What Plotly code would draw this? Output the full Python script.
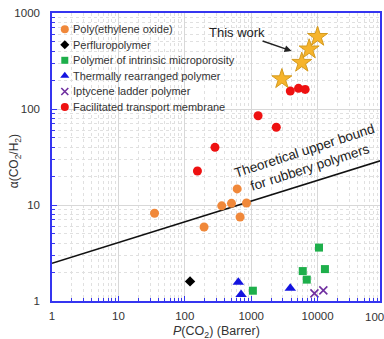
import plotly.graph_objects as go

# ---------------- data ----------------
peo_p = [35, 195, 360, 505, 850, 615, 680]
peo_a = [8.2, 5.9, 9.8, 10.4, 10.5, 14.7, 7.5]

pfp_p = [120]
pfp_a = [1.6]

pim_p = [1060, 5980, 6870, 10500, 12900]
pim_a = [1.28, 2.05, 1.67, 3.6, 2.15]

tr_p = [640, 705, 3880]
tr_a = [1.57, 1.17, 1.36]

ipt_p = [8960, 12200]
ipt_a = [1.2, 1.29]

ftm_p = [155, 285, 1270, 2390, 3880, 5160, 6500]
ftm_a = [22.6, 39.9, 85, 64.5, 154, 164, 160]

tw_p = [2900, 5780, 7460, 10000]
tw_a = [205, 304, 419, 566]

bound_p = [1, 100000]
bound_a = [2.47, 29.7]

series_names = ["Poly(ethylene oxide)", "Perfluropolymer",
                "Polymer of intrinsic microporosity", "Thermally rearranged polymer",
                "Iptycene ladder polymer", "Facilitated transport membrane"]

x_tickvals = [1, 10, 100, 1000, 10000, 100000]
x_ticktext = ["1", "10", "100", "1000", "10000", "100000"]
y_tickvals = [1, 10, 100, 1000]
y_ticktext = ["1", "10", "100", "1000"]

# minor ticks at 2..9 of each decade (axis styling)
x_minor = [m * 10 ** d for d in range(5) for m in range(2, 10)]
y_minor = [m * 10 ** d for d in range(3) for m in range(2, 10)]

# ---------------- styles ----------------
AX = "#3535f0"
TXT = "#333333"
FONT = "Liberation Sans, Arial, sans-serif"

styles = [
    dict(symbol="circle", size=9, color="#F0883A", line=dict(width=0)),
    dict(symbol="diamond", size=8, color="#000000", line=dict(width=0)),
    dict(symbol="square", size=8, color="#1EAF4B", line=dict(width=0)),
    dict(symbol="triangle-up", size=10, color="#1414E0", line=dict(width=0)),
    dict(symbol="x-thin", size=8, color="#7030A0", line=dict(width=1.6, color="#7030A0")),
    dict(symbol="circle", size=9, color="#EE1111", line=dict(width=0)),
]
series_xy = [(peo_p, peo_a), (pfp_p, pfp_a), (pim_p, pim_a),
             (tr_p, tr_a), (ipt_p, ipt_a), (ftm_p, ftm_a)]

fig = go.Figure()

# upper bound line
fig.add_trace(go.Scatter(x=bound_p, y=bound_a, mode="lines",
                         line=dict(color="#111111", width=1.6),
                         showlegend=False, hoverinfo="skip"))

for name, (px_, py_), st in zip(series_names, series_xy, styles):
    fig.add_trace(go.Scatter(x=px_, y=py_, mode="markers", name=name,
                             marker=st, showlegend=False))

fig.add_trace(go.Scatter(x=tw_p, y=tw_a, mode="markers", name="This work",
                         marker=dict(symbol="star", size=15, color="#F6B42C",
                                     line=dict(width=1, color="#D49A1E")),
                         showlegend=False))

# ---------------- custom legend (overlay axes in paper-like units) ----------------
leg_x_marker = 0.039
leg_x_text = 0.0576
leg_y0 = 0.944
leg_dy = 0.0541
leg_sizes = [8, 7, 7, 8, 7, 8]
annotations = []
for i, (name, st) in enumerate(zip(series_names, styles)):
    y = leg_y0 - i * leg_dy
    m = dict(st)
    m["size"] = leg_sizes[i]
    fig.add_trace(go.Scatter(x=[leg_x_marker], y=[y], mode="markers", marker=m,
                             xaxis="x2", yaxis="y2", showlegend=False, hoverinfo="skip"))
    annotations.append(dict(xref="paper", yref="paper", x=leg_x_text, y=y,
                            xanchor="left", yanchor="middle", showarrow=False,
                            text=name, font=dict(size=11, color=TXT, family=FONT)))

# axis titles
annotations.append(dict(xref="paper", yref="paper", x=-0.112, y=0.486,
                        xanchor="center", yanchor="middle",
                        text="α(CO<sub>2</sub>/H<sub>2</sub>)", textangle=-90,
                        showarrow=False, font=dict(size=12, color=TXT, family=FONT)))
annotations.append(dict(xref="paper", yref="paper", x=0.5, y=-0.108,
                        xanchor="center", yanchor="middle",
                        text="<i>P</i>(CO<sub>2</sub>) (Barrer)",
                        showarrow=False, font=dict(size=12.5, color=TXT, family=FONT)))
# last x tick label, cut by the figure edge
annotations.append(dict(xref="paper", yref="paper", x=1.012, y=-0.0556,
                        xanchor="center", yanchor="middle",
                        text=x_ticktext[-1], showarrow=False,
                        font=dict(size=11.5, color=TXT, family=FONT)))

# "This work" arrow
annotations.append(dict(xref="x", yref="y", x=3.608, y=2.604, ax=-55, ay=-19,
                        text="This work", showarrow=True, arrowhead=2, arrowsize=1,
                        arrowwidth=1.4, arrowcolor="#222222",
                        font=dict(size=13, color="#222222", family=FONT)))
# upper bound label
annotations.append(dict(xref="x", yref="y", x=3.835, y=1.475, textangle=-18,
                        xanchor="center", yanchor="middle",
                        text="Theoretical upper bound<br>for rubbery polymers",
                        showarrow=False, font=dict(size=13.5, color="#222222", family=FONT)))

axis_common = dict(
    type="log", showline=True, linecolor=AX, linewidth=1.5, mirror=True,
    ticks="inside", ticklen=5, tickwidth=1, tickcolor=AX,
    showgrid=True, gridcolor="#d8d8d8", gridwidth=1, zeroline=False,
    tickfont=dict(size=11.5, color=TXT, family=FONT),
)

fig.update_layout(
    width=384, height=339,
    margin=dict(l=52, r=2, t=13, b=38),
    paper_bgcolor="white", plot_bgcolor="white",
    font=dict(family=FONT, color=TXT),
    xaxis=dict(axis_common, range=[0, 4.94], tickvals=x_tickvals, ticktext=x_ticktext,
               ticklabelstandoff=3,
               minor=dict(tickmode="array", tickvals=x_minor, ticks="inside", ticklen=3,
                          tickcolor=AX, tickwidth=1, showgrid=True,
                          gridcolor="#e0e0e0", griddash="dot")),
    yaxis=dict(axis_common, range=[0, 3], tickvals=y_tickvals, ticktext=y_ticktext,
               ticklabelstandoff=8,
               minor=dict(tickmode="array", tickvals=y_minor, ticks="inside", ticklen=3,
                          tickcolor=AX, tickwidth=1, showgrid=True,
                          gridcolor="#e0e0e0", griddash="dot")),
    xaxis2=dict(overlaying="x", range=[0, 1], visible=False, fixedrange=True),
    yaxis2=dict(overlaying="y", range=[0, 1], visible=False, fixedrange=True),
    annotations=annotations,
    showlegend=False,
)

fig.write_html("out.html", config={"displayModeBar": False},
               post_script="document.body.style.margin='0';")
